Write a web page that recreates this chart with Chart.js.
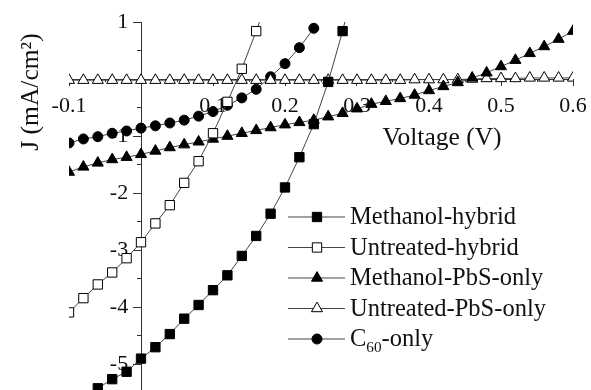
<!DOCTYPE html>
<html><head><meta charset="utf-8">
<script src="https://cdn.jsdelivr.net/npm/chart.js@4"></script>
<style>html,body{margin:0;padding:0;background:#fff}canvas{display:block}</style>
</head><body>
<canvas id="c" width="591" height="390"></canvas>
<script>
// ---- data ----
const seriesNames = ['Methanol-hybrid', 'Untreated-hybrid', 'Methanol-PbS-only', 'Untreated-PbS-only', 'C_{60}-only'];

const vMethanolHybrid = [-0.08,-0.06,-0.04,-0.02,0,0.02,0.04,0.06,0.08,0.1,0.12,0.14,0.16,0.18,0.2,0.22,0.24,0.26,0.28,0.3];
const jMethanolHybrid = [-5.6,-5.42,-5.26,-5.13,-4.9,-4.7,-4.47,-4.2,-3.96,-3.7,-3.44,-3.1,-2.75,-2.36,-1.9,-1.37,-0.79,-0.05,0.84,1.85];

const vUntreatedHybrid = [-0.1,-0.08,-0.06,-0.04,-0.02,0,0.02,0.04,0.06,0.08,0.1,0.12,0.14,0.16,0.18];
const jUntreatedHybrid = [-4.09,-3.84,-3.6,-3.39,-3.14,-2.86,-2.53,-2.21,-1.82,-1.44,-0.95,-0.4,0.18,0.84,1.55];

const vPbS = [-0.1,-0.08,-0.06,-0.04,-0.02,0,0.02,0.04,0.06,0.08,0.1,0.12,0.14,0.16,0.18,0.2,0.22,0.24,0.26,0.28,0.3,0.32,0.34,0.36,0.38,0.4,0.42,0.44,0.46,0.48,0.5,0.52,0.54,0.56,0.58,0.6];
const jMethanolPbS = [-1.63,-1.54,-1.47,-1.41,-1.37,-1.32,-1.26,-1.2,-1.15,-1.1,-1.05,-1.0,-0.95,-0.9,-0.85,-0.8,-0.76,-0.72,-0.66,-0.6,-0.52,-0.44,-0.39,-0.34,-0.28,-0.2,-0.13,-0.06,0.02,0.11,0.22,0.33,0.45,0.57,0.7,0.84];
const jUntreatedPbS = [-0.02,-0.02,-0.02,-0.02,-0.02,-0.02,-0.02,-0.02,-0.02,-0.02,-0.02,-0.02,-0.02,-0.02,-0.02,-0.02,-0.02,-0.02,-0.02,-0.02,-0.02,-0.02,-0.02,-0.02,-0.01,-0.01,-0.01,-0.01,0,0.01,0.01,0.01,0.02,0.02,0.02,0.02];

const vC60 = [-0.1,-0.08,-0.06,-0.04,-0.02,0,0.02,0.04,0.06,0.08,0.1,0.12,0.14,0.16,0.18,0.2,0.22,0.24];
const jC60 = [-1.12,-1.05,-1.01,-0.95,-0.91,-0.86,-0.82,-0.77,-0.72,-0.65,-0.57,-0.46,-0.33,-0.18,0.04,0.27,0.55,0.89];

const xTitle = 'Voltage (V)';
const yTitle = 'J (mA/cm\u00B2)';
const xMin = -0.1, xMax = 0.6, xMajor = 0.1, xMinor = 0.05;
const yMin = -5.45, yMax = 1, yMajor = 1, yMinor = 0.5;

// ---- build ----
const pairs = (vs, js) => vs.map((v, i) => ({x: v, y: js[i]}));
const styles = [
  {pointStyle: 'rect', fill: '#000', r: 6.6},
  {pointStyle: 'rect', fill: '#fff', r: 6.6},
  {pointStyle: 'triangle', fill: '#000', r: 6.4},
  {pointStyle: 'triangle', fill: '#fff', r: 6.4},
  {pointStyle: 'circle', fill: '#000', r: 5},
];
const dataList = [
  pairs(vMethanolHybrid, jMethanolHybrid),
  pairs(vUntreatedHybrid, jUntreatedHybrid),
  pairs(vPbS, jMethanolPbS),
  pairs(vPbS, jUntreatedPbS),
  pairs(vC60, jC60),
];
const datasets = dataList.map((d, i) => ({
  label: seriesNames[i].replace(/_\{(.*?)\}/g, '$1'),
  rawLabel: seriesNames[i],
  data: d,
  showLine: true,
  borderColor: '#444',
  borderWidth: 1,
  pointStyle: styles[i].pointStyle,
  pointRadius: styles[i].r,
  pointHoverRadius: styles[i].r,
  pointBackgroundColor: styles[i].fill,
  pointBorderColor: '#000',
  pointBorderWidth: 1,
  clip: 0,
  xAxisID: 'x',
  yAxisID: 'y',
}));

const FONT = '"Liberation Serif", "Times New Roman", serif';

const zeroFit = (s) => {
  if (s.isHorizontal()) s.height = 0; else s.width = 0;
  s.paddingLeft = 0; s.paddingRight = 0; s.paddingTop = 0; s.paddingBottom = 0;
};

function drawRich(ctx, text, x, y, size) {
  const parts = text.split(/(_\{.*?\})/).filter(p => p.length);
  let cx = x;
  for (const p of parts) {
    const m = p.match(/^_\{(.*)\}$/);
    if (m) {
      ctx.font = (size * 0.62) + 'px ' + FONT;
      ctx.fillText(m[1], cx, y + size * 0.32);
      cx += ctx.measureText(m[1]).width;
    } else {
      ctx.font = size + 'px ' + FONT;
      ctx.fillText(p, cx, y);
      cx += ctx.measureText(p).width;
    }
  }
}

const annot = {
  id: 'annot',
  afterDraw(chart) {
    const ctx = chart.ctx;
    ctx.save();
    ctx.fillStyle = '#111';
    ctx.save();
    ctx.translate(31, 92);
    ctx.rotate(-Math.PI / 2);
    ctx.font = '25.5px ' + FONT;
    ctx.textAlign = 'center';
    ctx.textBaseline = 'middle';
    ctx.fillText(yTitle, 0, 0);
    ctx.restore();
    ctx.font = '25.5px ' + FONT;
    ctx.textAlign = 'center';
    ctx.textBaseline = 'middle';
    ctx.fillText(xTitle, 442, 138);
    const lx0 = 288, lx1 = 345, mx = 317, tx = 350, ly0 = 217, dy = 30.5;
    chart.data.datasets.forEach((ds, i) => {
      const y = ly0 + i * dy;
      ctx.strokeStyle = '#444';
      ctx.lineWidth = 1.2;
      ctx.beginPath(); ctx.moveTo(lx0, y); ctx.lineTo(lx1, y); ctx.stroke();
      ctx.fillStyle = ds.pointBackgroundColor;
      ctx.strokeStyle = '#000';
      ctx.lineWidth = 1;
      Chart.helpers.drawPoint(ctx, {pointStyle: ds.pointStyle, radius: ds.pointRadius, rotation: 0, borderWidth: 1}, mx, y);
      ctx.fillStyle = '#111';
      ctx.textAlign = 'left';
      ctx.textBaseline = 'middle';
      drawRich(ctx, ds.rawLabel, tx, y + 1, 24.5);
    });
    ctx.restore();
  }
};

const yTickCallback = (v) => {
  const k = Math.round(v * 10);
  if (k % 10 !== 0 || k === 0) return '';
  return String(k / 10);
};
const xTickCallback = (v) => {
  const k = Math.round(v * 100);
  if (k % 10 !== 0 || k === 0) return '';
  return (k / 100).toFixed(1);
};

const tickOnly = (step, len) => ({
  stepSize: step, includeBounds: false, autoSkip: false, display: false
});

new Chart(document.getElementById('c'), {
  type: 'scatter',
  data: {datasets},
  options: {
    responsive: false,
    animation: false,
    devicePixelRatio: 1,
    layout: {autoPadding: false, padding: {left: 69, right: 18, top: 22, bottom: 0}},
    plugins: {legend: {display: false}, tooltip: {enabled: false}},
    scales: {
      x: {
        type: 'linear', min: xMin, max: xMax,
        position: {y: 0},
        afterFit: zeroFit,
        border: {display: true, color: '#333', width: 1},
        grid: {drawOnChartArea: false, drawTicks: true, tickLength: 6, color: '#333'},
        ticks: {
          stepSize: xMajor, includeBounds: false, autoSkip: false, maxRotation: 0,
          color: '#111', font: {family: FONT, size: 22}, padding: 8,
          callback: xTickCallback
        }
      },
      xm: {
        type: 'linear', min: xMin, max: xMax,
        position: {y: 0},
        afterFit: zeroFit,
        border: {display: false},
        grid: {drawOnChartArea: false, drawTicks: true, tickLength: 3, color: '#333'},
        ticks: tickOnly(xMinor)
      },
      y: {
        type: 'linear', min: yMin, max: yMax,
        position: {x: 0},
        afterFit: zeroFit,
        border: {display: true, color: '#333', width: 1},
        grid: {drawOnChartArea: false, drawTicks: true, tickLength: 8, color: '#333'},
        ticks: tickOnly(yMajor)
      },
      ym: {
        type: 'linear', min: yMin, max: yMax,
        position: {x: 0},
        afterFit: zeroFit,
        border: {display: false},
        grid: {drawOnChartArea: false, drawTicks: true, tickLength: 4, color: '#333'},
        ticks: tickOnly(yMinor)
      },
      yl: {
        type: 'linear', min: yMin, max: yMax,
        position: {x: -0.0178},
        afterFit: zeroFit,
        border: {display: false},
        grid: {display: false},
        ticks: {
          stepSize: yMajor, includeBounds: false, autoSkip: false,
          color: '#111', font: {family: FONT, size: 22},
          callback: yTickCallback
        }
      }
    }
  },
  plugins: [annot]
});
</script>
</body></html>
